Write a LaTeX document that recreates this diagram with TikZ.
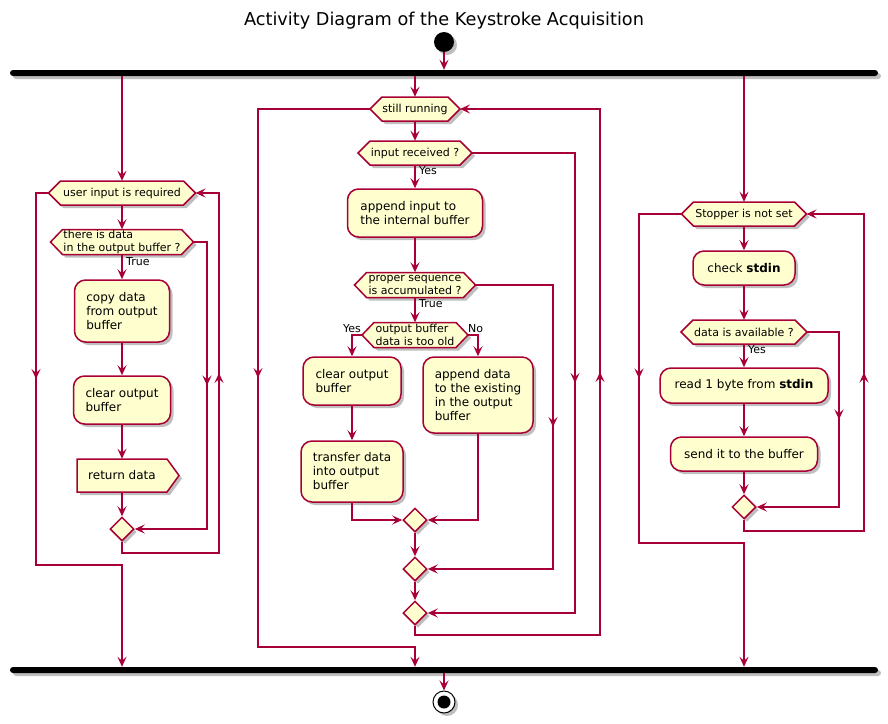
\documentclass[tikz,border=0pt]{standalone}
\usepackage{fontspec}
\setmainfont{DejaVu Sans}
\usetikzlibrary{arrows.meta,shapes.geometric,shadows,decorations.markings,calc}
\definecolor{pline}{HTML}{A80036}
\definecolor{pfill}{HTML}{FEFECE}
\tikzset{
  shad/.style={drop shadow={shadow xshift=3pt,shadow yshift=-3pt,opacity=0.25,fill=black}},
  line/.style={draw=pline,line width=1.5pt},
  flow/.style={line,-{Stealth[length=10pt,width=9pt,inset=4pt]}},
  midarrow/.style={line,postaction={decorate},decoration={markings,mark=at position 0.5 with {\arrow{Stealth[length=10pt,width=9pt,inset=4pt]}}}},
  act/.style={draw=pline,fill=pfill,line width=1.5pt,rounded corners=11pt,shad,align=left,inner sep=0pt,font=\fontsize{12}{14}\selectfont},
  acttext/.style={inner sep=0pt,align=left,font=\fontsize{12}{14}\selectfont},
  hexshape/.style={draw=pline,fill=pfill,line width=1.5pt,shad},
  hextext/.style={inner sep=0pt,align=left,font=\fontsize{11}{12.5}\selectfont},
  merge/.style={diamond,aspect=1,draw=pline,fill=pfill,line width=1.5pt,shad,minimum width=24pt,minimum height=24pt,inner sep=0pt},
  bar/.style={fill=black,rounded corners=3pt,minimum height=6pt,minimum width=868pt,inner sep=0pt,shad},
  lbl/.style={inner sep=0pt,font=\fontsize{11}{13}\selectfont},
}
% name, cx, cy, total width, height, text
\newcommand\hexnode[6]{%
  \path[hexshape] ({#2-#4/2},#3) -- ({#2-#4/2+12},{#3-#5/2}) -- ({#2+#4/2-12},{#3-#5/2}) -- ({#2+#4/2},#3) -- ({#2+#4/2-12},{#3+#5/2}) -- ({#2-#4/2+12},{#3+#5/2}) -- cycle;
  \node[hextext,minimum height=#5pt] (#1) at (#2,#3) {#6};
  \coordinate (#1W) at ({#2-#4/2},#3);
  \coordinate (#1E) at ({#2+#4/2},#3);
}
\begin{document}
\begin{tikzpicture}[x=1pt,y=-1pt]
\path[use as bounding box,fill=white] (0,0) rectangle (888,723);

\node[font=\fontsize{17.7}{21}\selectfont] (title) at (444,20.5) {Activity Diagram of the Keystroke Acquisition};

\node[circle,fill=black,minimum size=20pt,inner sep=0pt,shad] (start) at (444,42) {};
\node[bar] (fork) at (444,73) {};
\node[bar] (join) at (444,670) {};
\node[circle,draw=black,fill=white,line width=1pt,minimum size=22pt,inner sep=0pt,shad] (stop) at (444,702) {};
\node[circle,fill=black,minimum size=13pt,inner sep=0pt] (stopin) at (stop) {};

% ---------- left branch ----------
\hexnode{H1}{122}{193}{147}{24}{user input is required}
\hexnode{H2}{122}{242}{143}{25}{there is data\\in the output buffer ?}
\node[act,minimum width=95pt,minimum height=62pt] (A1) at (122,311) {copy data\\from output\\buffer};
\node[act,minimum width=97pt,minimum height=48pt] (A2) at (122,400) {clear output\\buffer};
\path[hexshape] (77,459) -- (167,459) -- (179,475.5) -- (167,492) -- (77,492) -- cycle;
\node[acttext,minimum height=33pt] (A3) at (122,475.5) {return data};
\node[merge] (D1) at (122,529) {};
\node[lbl,anchor=west] (tTrue1) at (126,262) {True};

% ---------- middle branch ----------
\hexnode{M1}{415}{109}{90}{24}{still running}
\hexnode{M2}{415}{153}{114}{24}{input received ?}
\node[act,minimum width=135pt,minimum height=48pt] (M5) at (415,213) {append input to\\the internal buffer};
\hexnode{M3}{415}{285}{121}{25}{proper sequence\\is accumulated ?}
\hexnode{M4}{415}{335}{106}{25}{output buffer\\data is too old}
\node[act,minimum width=98pt,minimum height=48pt] (M6) at (352,381) {clear output\\buffer};
\node[act,minimum width=102pt,minimum height=61pt] (M7) at (352,471.5) {transfer data\\into output\\buffer};
\node[act,minimum width=110pt,minimum height=76pt] (M8) at (478,395) {append data\\to the existing\\in the output\\buffer};
\node[merge] (MD1) at (415,520) {};
\node[merge] (MD2) at (415,569) {};
\node[merge] (MD3) at (415,613) {};
\node[lbl,anchor=west] (tYes1) at (419,171) {Yes};
\node[lbl,anchor=west] (tTrue2) at (419,304) {True};
\node[lbl,anchor=east] (tYes2) at (361,329) {Yes};
\node[lbl,anchor=west] (tNo) at (468,329) {No};

% ---------- right branch ----------
\hexnode{R1}{744}{214}{125}{24}{Stopper is not set}
\node[act,minimum width=102pt,minimum height=34pt] (R3) at (744,268) {check \textbf{stdin}};
\hexnode{R2}{744}{332}{126}{24}{data is available ?}
\node[act,minimum width=168pt,minimum height=35pt] (R4) at (744,385.5) {read 1 byte from \textbf{stdin}};
\node[act,minimum width=147pt,minimum height=34pt] (R5) at (744,454) {send it to the buffer};
\node[merge] (RD) at (744,507) {};
\node[lbl,anchor=west] (tYes3) at (748,350) {Yes};

% ---------- connectors ----------
\draw[flow] (start.south) -- (fork.north -| start.south);
\draw[flow] (join.south -| stop.north) -- (stop.north);

% left
\draw[flow] (fork.south -| H1.north) -- (H1.north);
\draw[flow] (H1.south) -- (H2.north);
\draw[flow] (H2.south) -- (A1.north);
\draw[flow] (A1.south) -- (A2.north);
\draw[flow] (A2.south) -- (A3.north);
\draw[flow] (A3.south) -- (D1.north);
\coordinate (LxI) at (207,529);
\draw[flow] (H2E) -| (LxI) -- (D1.east);
\draw[midarrow] (H2E -| LxI) -- (LxI);
\coordinate (LyB) at (219,553);
\draw[flow] (D1.south) |- (LyB) |- (H1E);
\draw[midarrow] (LyB) -- (LyB |- H1E);
\coordinate (LxO) at (36,565);
\draw[flow] (H1W) -| (LxO) -- (LxO -| H1.south) -- (join.north -| H1.south);
\draw[midarrow] (H1W -| LxO) -- (LxO);

% middle
\draw[flow] (fork.south -| M1.north) -- (M1.north);
\draw[flow] (M1.south) -- (M2.north);
\draw[flow] (M2.south) -- (M5.north);
\draw[flow] (M5.south) -- (M3.north);
\draw[flow] (M3.south) -- (M4.north);
\draw[flow] (M4W) -| (M6.north);
\draw[flow] (M4E) -| (M8.north);
\draw[flow] (M6.south) -- (M7.north);
\draw[flow] (M7.south) |- (MD1.west);
\draw[flow] (M8.south) |- (MD1.east);
\draw[flow] (MD1.south) -- (MD2.north);
\draw[flow] (MD2.south) -- (MD3.north);
\coordinate (MxA) at (553,569);
\draw[flow] (M3E) -| (MxA) -- (MD2.east);
\draw[midarrow] (M3E -| MxA) -- (MxA);
\coordinate (MxB) at (575,613);
\draw[flow] (M2E) -| (MxB) -- (MD3.east);
\draw[midarrow] (M2E -| MxB) -- (MxB);
\coordinate (MyC) at (600,635);
\draw[flow] (MD3.south) |- (MyC) |- (M1E);
\draw[midarrow] (MyC) -- (MyC |- M1E);
\coordinate (MxO) at (258,647);
\draw[flow] (M1W) -| (MxO) -- (MxO -| M1.south) -- (join.north -| M1.south);
\draw[midarrow] (M1W -| MxO) -- (MxO);

% right
\draw[flow] (fork.south -| R1.north) -- (R1.north);
\draw[flow] (R1.south) -- (R3.north);
\draw[flow] (R3.south) -- (R2.north);
\draw[flow] (R2.south) -- (R4.north);
\draw[flow] (R4.south) -- (R5.north);
\draw[flow] (R5.south) -- (RD.north);
\coordinate (RxI) at (839,507);
\draw[flow] (R2E) -| (RxI) -- (RD.east);
\draw[midarrow] (R2E -| RxI) -- (RxI);
\coordinate (RyB) at (864,531);
\draw[flow] (RD.south) |- (RyB) |- (R1E);
\draw[midarrow] (RyB) -- (RyB |- R1E);
\coordinate (RxO) at (639,543);
\draw[flow] (R1W) -| (RxO) -- (RxO -| R1.south) -- (join.north -| R1.south);
\draw[midarrow] (R1W -| RxO) -- (RxO);
\end{tikzpicture}
\end{document}
